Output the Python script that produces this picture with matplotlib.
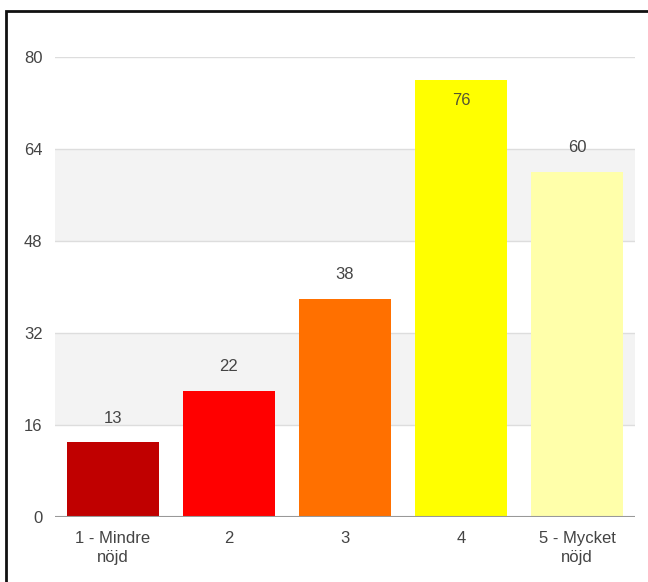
import matplotlib.pyplot as plt
import matplotlib.patches as patches

plt.rcParams['font.family'] = ['Liberation Sans', 'DejaVu Sans']

categories = ['1 - Mindre\nnöjd', '2', '3', '4', '5 - Mycket\nnöjd']
counts = [13, 22, 38, 76, 60]
colors = ['#c00000', '#ff0000', '#ff7000', '#ffff00', '#ffffaa']
yticks = [0, 16, 32, 48, 64, 80]

W, H = 648, 582
fig = plt.figure(figsize=(W / 100, H / 100), dpi=100)
ax = fig.add_axes([55 / W, 1 - 517 / H, 580 / W, 460 / H])

# alternating bands between gridlines
for i in range(len(yticks) - 1):
    if i % 2 == 1:
        ax.axhspan(yticks[i], yticks[i + 1], color='#f3f3f3', zorder=0, lw=0)
for t in yticks[1:]:
    ax.axhline(t, color='#dddddd', lw=1, zorder=1)
ax.axhline(0, color='#999999', lw=1.5, zorder=3)

x = range(len(categories))
ax.bar(x, counts, width=0.79, color=colors, zorder=2)

for i, v in enumerate(counts):
    if v > 70:
        ax.text(i, v - 3.6, str(v), ha='center', va='center', fontsize=12,
                color='#555533', zorder=4)
    else:
        ax.text(i, v + 4.2, str(v), ha='center', va='center', fontsize=12,
                color='#444444', zorder=4)

ax.set_xlim(-0.5, 4.5)
ax.set_ylim(0, 80)
ax.set_yticks(yticks)
ax.set_xticks(list(x))
ax.set_xticklabels(categories, linespacing=1.35)
ax.tick_params(axis='both', length=0, labelsize=12, colors='#444444')
ax.tick_params(axis='y', pad=9)
ax.tick_params(axis='x', pad=10)
for s in ax.spines.values():
    s.set_visible(False)

# outer frame (top and left edges visible)
fig.patches.append(patches.Rectangle((6 / W, -0.1), 1.1, 1 - 11 / H + 0.1,
                                     transform=fig.transFigure, fill=False,
                                     edgecolor='#111111', lw=2))

fig.savefig('out.png', dpi=100)
